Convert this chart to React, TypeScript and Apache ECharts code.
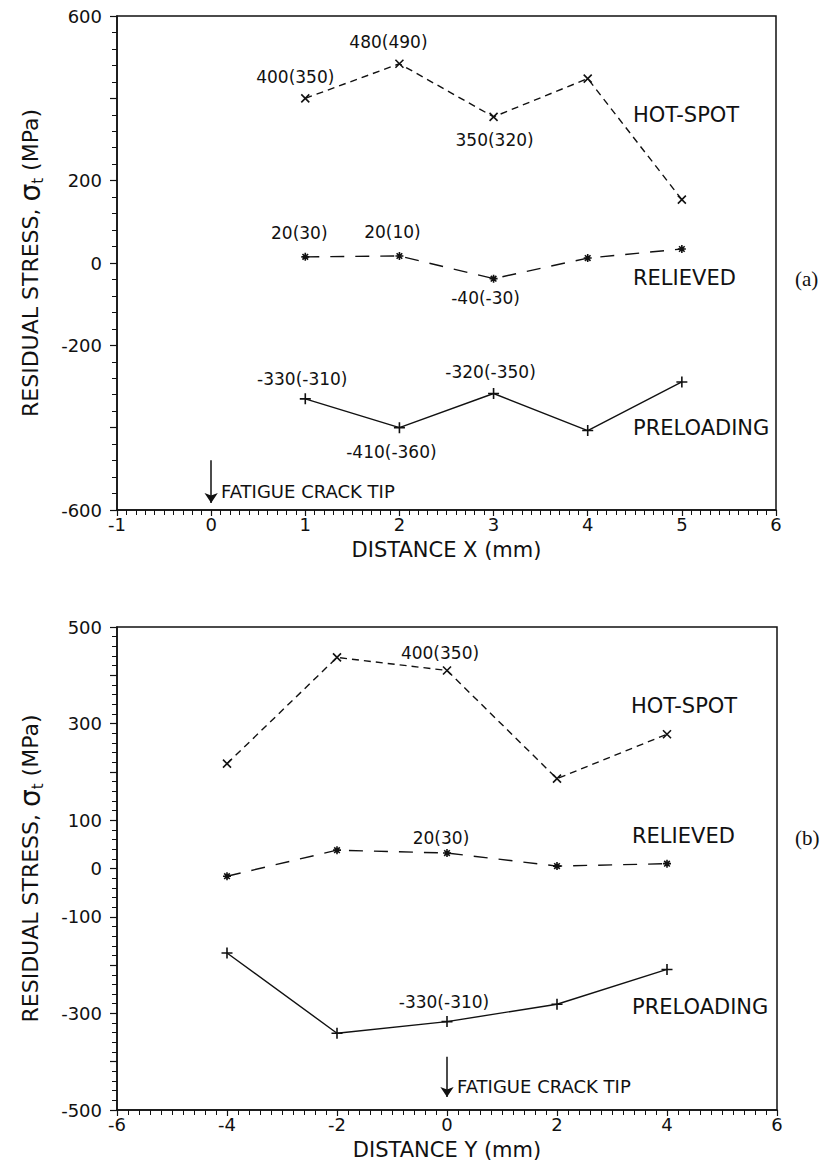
import React, { useEffect, useRef } from 'react';
import * as echarts from 'echarts';

// ---------- data: panel (a), distance X ----------
const xA = [1, 2, 3, 4, 5];
const hotSpotA = [400, 484, 355, 448, 154];
const relievedA = [15, 17, -38, 12, 34];
const preloadingA = [-330, -400, -317, -407, -289];
const hotSpotALabels = ['400(350)', '480(490)', '350(320)', '', ''];
const relievedALabels = ['20(30)', '20(10)', '-40(-30)', '', ''];
const preloadingALabels = ['-330(-310)', '-410(-360)', '-320(-350)', '', ''];

// ---------- data: panel (b), distance Y ----------
const xB = [-4, -2, 0, 2, 4];
const hotSpotB = [217, 437, 410, 186, 278];
const relievedB = [-16, 38, 32, 5, 10];
const preloadingB = [-175, -341, -317, -281, -209];
const hotSpotBLabels = ['', '', '400(350)', '', ''];
const relievedBLabels = ['', '', '20(30)', '', ''];
const preloadingBLabels = ['', '', '-330(-310)', '', ''];

// ---------- tick labels ----------
const yTickLabelsA = [600, 200, 0, -200, -600];
const yTickLabelsB = [500, 300, 100, 0, -100, -300, -500];
const seriesNames = ['HOT-SPOT', 'RELIEVED', 'PRELOADING'];
const crackTipLabel = 'FATIGUE CRACK TIP';
const crackTipArrowA = [0, -479, -583];
const crackTipArrowB = [0, -390, -473];

const FONT = 'DejaVu Sans';
const INK = '#111';

const SYM_X = 'path://M0,0L10,10M10,0L0,10';
const SYM_STAR = 'path://M0,5L10,5M5,0L5,10M1.5,1.5L8.5,8.5M8.5,1.5L1.5,8.5';
const SYM_PLUS = 'path://M0,5L10,5M5,0L5,10';

// label offsets (label centre relative to the point), per point index
const offHotA = [[-10, -21], [-11, -22], [1, 23]];
const offRelA = [[-6, -24], [-7, -24], [-8, 19]];
const offPreA = [[-3, -20], [-8, 24], [-3, -21]];
const offHotB = [null, null, [-7, -17]];
const offRelB = [null, null, [-6, -15]];
const offPreB = [null, null, [-3, -20]];

function buildData(xs: number[], ys: number[], labels: string[], offs: any[]) {
  return xs.map((x, i) => {
    const item: any = { value: [x, ys[i]] };
    if (labels[i]) {
      item.label = {
        show: true,
        formatter: labels[i],
        position: 'inside',
        offset: offs[i] || [0, -20],
        fontFamily: FONT,
        fontSize: 17,
        color: INK,
      };
    }
    return item;
  });
}

function lineSeries(
  name: string,
  gi: number,
  data: any[],
  kind: 'hot' | 'rel' | 'pre',
  extra: any = {}
) {
  const dash = kind === 'hot' ? [7, 5] : kind === 'rel' ? [14, 11] : 'solid';
  const symbol = kind === 'hot' ? SYM_X : kind === 'rel' ? SYM_STAR : SYM_PLUS;
  const size = kind === 'hot' ? 8 : kind === 'rel' ? 8 : 11;
  return {
    type: 'line',
    name,
    xAxisIndex: gi,
    yAxisIndex: gi,
    data,
    symbol,
    symbolSize: size,
    showSymbol: true,
    lineStyle: { color: INK, width: 1.4, type: dash },
    itemStyle: { color: INK, borderColor: INK, borderWidth: 1.6 },
    label: { show: false },
    emphasis: { disabled: true },
    z: 3,
    ...extra,
  };
}

function arrowMarkLine(arrow: number[]) {
  return {
    silent: true,
    symbol: ['none', 'arrow'],
    symbolSize: 10,
    label: { show: false },
    lineStyle: { color: INK, width: 1.5, type: 'solid' },
    data: [[{ coord: [arrow[0], arrow[1]] }, { coord: [arrow[0], arrow[2]] }]],
  };
}

function xAxisCfg(gi: number, min: number, max: number, interval: number, name: string) {
  return {
    type: 'value',
    gridIndex: gi,
    min,
    max,
    interval,
    name,
    nameLocation: 'middle',
    nameGap: 29,
    nameTextStyle: { fontFamily: FONT, fontSize: 21, color: INK },
    axisLine: { show: true, onZero: false, lineStyle: { color: INK, width: 1.5 } },
    axisTick: { show: true, inside: false, length: 6, lineStyle: { color: INK, width: 1.2 } },
    minorTick: { show: true, splitNumber: 10, length: 5, lineStyle: { color: INK, width: 1 } },
    axisLabel: {
      fontFamily: FONT,
      fontSize: 18,
      color: INK,
      margin: 5,
      showMinLabel: true,
      showMaxLabel: true,
    },
    splitLine: { show: false },
    minorSplitLine: { show: false },
  };
}

function yAxisCfg(gi: number, min: number, max: number, interval: number, minorSplit: number, shown: number[]) {
  return {
    type: 'value',
    gridIndex: gi,
    min,
    max,
    interval,
    name: '{n|RESIDUAL STRESS, }{s|σ}{t|t}{n| (MPa)}',
    nameLocation: 'middle',
    nameGap: 72,
    nameTextStyle: {
      color: INK,
      rich: {
        n: { fontFamily: FONT, fontSize: 22, color: INK, lineHeight: 30 },
        s: { fontFamily: FONT, fontSize: 28, color: INK, lineHeight: 30 },
        t: { fontFamily: FONT, fontSize: 15, color: INK, verticalAlign: 'bottom', lineHeight: 30 },
      },
    },
    axisLine: { show: true, onZero: false, lineStyle: { color: INK, width: 1.5 } },
    axisTick: { show: true, inside: false, length: 7, lineStyle: { color: INK, width: 1.2 } },
    minorTick: { show: true, splitNumber: minorSplit, length: 5, lineStyle: { color: INK, width: 1 } },
    axisLabel: {
      fontFamily: FONT,
      fontSize: 18,
      color: INK,
      margin: 15,
      showMinLabel: true,
      showMaxLabel: true,
      formatter: (v: number) => (shown.indexOf(v) >= 0 ? String(v) : ''),
    },
    splitLine: { show: false },
    minorSplitLine: { show: false },
  };
}

function txt(x: number, y: number, text: string, size = 21, family = FONT, align = 'left') {
  return {
    type: 'text',
    x,
    y,
    silent: true,
    style: {
      text,
      fill: INK,
      font: `${size}px "${family}"`,
      align,
      verticalAlign: 'middle',
      textAlign: align,
      textVerticalAlign: 'middle',
    },
  };
}

export default function App() {
  const ref = useRef<HTMLDivElement>(null);

  useEffect(() => {
    if (!ref.current) return;
    const chart = echarts.init(ref.current, undefined, { renderer: 'svg' });

    const option: any = {
      animation: false,
      backgroundColor: '#fff',
      grid: [
        { left: 117, top: 16, width: 659, height: 494, show: true, borderColor: INK, borderWidth: 1.5, backgroundColor: 'transparent' },
        { left: 117, top: 627, width: 660, height: 483, show: true, borderColor: INK, borderWidth: 1.5, backgroundColor: 'transparent' },
      ],
      xAxis: [
        xAxisCfg(0, -1, 6, 1, 'DISTANCE X (mm)'),
        xAxisCfg(1, -6, 6, 2, 'DISTANCE Y (mm)'),
      ],
      yAxis: [
        yAxisCfg(0, -600, 600, 200, 5, yTickLabelsA),
        yAxisCfg(1, -500, 500, 100, 5, yTickLabelsB),
      ],
      series: [
        lineSeries(seriesNames[0], 0, buildData(xA, hotSpotA, hotSpotALabels, offHotA), 'hot'),
        lineSeries(seriesNames[1], 0, buildData(xA, relievedA, relievedALabels, offRelA), 'rel'),
        lineSeries(seriesNames[2], 0, buildData(xA, preloadingA, preloadingALabels, offPreA), 'pre', {
          markLine: arrowMarkLine(crackTipArrowA),
        }),
        lineSeries(seriesNames[0], 1, buildData(xB, hotSpotB, hotSpotBLabels, offHotB), 'hot'),
        lineSeries(seriesNames[1], 1, buildData(xB, relievedB, relievedBLabels, offRelB), 'rel'),
        lineSeries(seriesNames[2], 1, buildData(xB, preloadingB, preloadingBLabels, offPreB), 'pre', {
          markLine: arrowMarkLine(crackTipArrowB),
        }),
      ],
      graphic: [
        txt(633, 115, seriesNames[0]),
        txt(633, 278, seriesNames[1]),
        txt(633, 428, seriesNames[2]),
        txt(221, 491, crackTipLabel, 18),
        txt(795, 279, '(a)', 21, 'Liberation Serif'),
        txt(631, 706, seriesNames[0]),
        txt(632, 836, seriesNames[1]),
        txt(632, 1007, seriesNames[2]),
        txt(457, 1086, crackTipLabel, 18),
        txt(795, 838, '(b)', 21, 'Liberation Serif'),
      ],
    };

    chart.setOption(option);
    return () => chart.dispose();
  }, []);

  return (
    <div
      ref={ref}
      style={{ position: 'absolute', left: 0, top: 0, width: 839, height: 1169, background: '#fff' }}
    />
  );
}
